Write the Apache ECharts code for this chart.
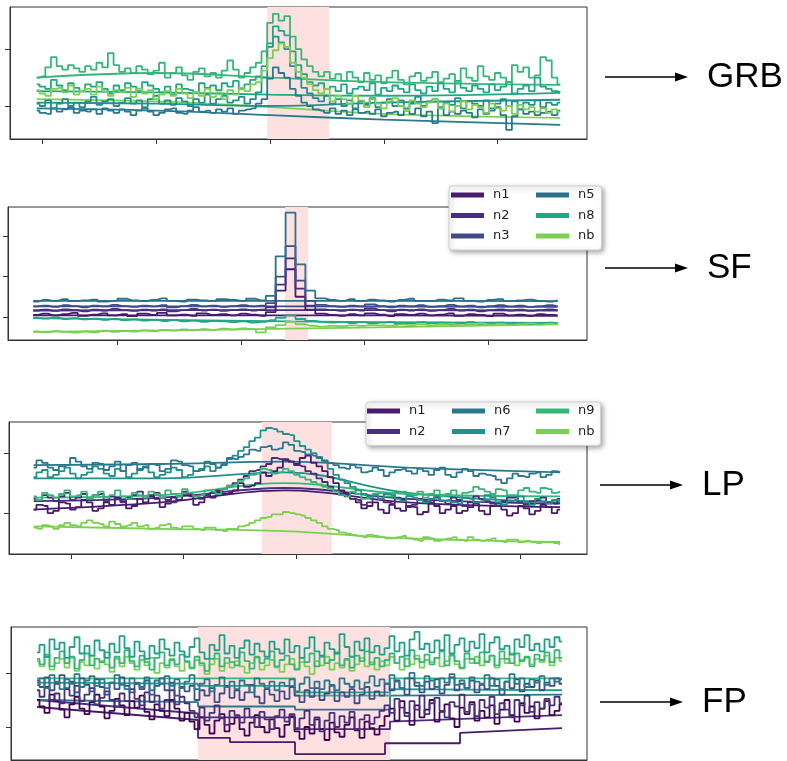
<!DOCTYPE html>
<html>
<head>
<meta charset="utf-8">
<title>Light curves: GRB, SF, LP, FP</title>
<script src="https://cdn.jsdelivr.net/npm/echarts@6/dist/echarts.min.js"></script>
<style>
  html, body { margin: 0; padding: 0; background: #fff; }
  #chart { width: 787px; height: 761px; }
</style>
</head>
<body>
<div id="chart"></div>
<script>
// detector colours (viridis-like)
const detColors = {
  n0: '#440154', n1: '#481a6c', n2: '#472f7d', n3: '#3e4c8a', n4: '#365d8d',
  n5: '#2d6f8e', n6: '#2a788e', n7: '#21918c', na: '#1fa187', n8: '#22a785',
  n9: '#35b779', nb: '#7ad151'
}

// ---- GRB panel: bins start at -41 s, 1 s wide ----
const grbStart = -41, grbBin = 1
const grbN9 = [150,152,168,186,170,164,172,166,160,170, 164,176,168,193,172,160,166,158,170,164,
  156,162,176,150,158,168,154,146,160,166, 152,158,150,162,180,164,150,158,168,176,
  196,246,262,250,258,222,200,182,170,160, 152,160,148,156,144,160,150,142,158,146,
  154,140,150,162,146,138,152,158,144,150, 160,142,148,156,140,166,150,144,170,152,
  146,158,150,142,172,160,168,150,154,186, 180,150,138]
const grbN8 = [138,134,130,146,136,128,140,132,126,138, 134,142,130,122,136,128,140,134,126,142,
  136,130,124,134,120,138,130,128,124,140, 132,136,128,140,134,144,130,138,146,152,
  170,210,240,232,224,196,172,156,142,136, 140,130,134,126,138,122,130,134,128,140,
  120,132,126,136,130,124,138,128,122,134, 126,140,130,124,144,132,126,136,130,124,
  138,128,134,142,122,130,136,126,150,134, 130,126,124]
const grbN7 = [104,100,110,96,104,112,100,106,98,108, 116,102,108,112,100,106,114,104,110,98,
  112,118,104,110,102,114,108,100,112,106, 120,104,112,118,106,110,116,104,112,124,
  150,204,222,212,200,170,150,132,122,114, 108,118,104,112,100,110,96,108,102,114,
  98,106,112,100,110,96,104,116,100,108, 112,98,106,102,114,96,108,104,100,110,
  96,104,112,100,108,94,106,102,110,98, 106,102,106]
const grbN6 = [92,88,86,96,90,94,98,88,92,90, 94,86,96,92,88,94,90,84,92,96,
  90,84,88,94,96,88,86,92,98,90, 92,88,94,90,96,86,92,94,96,104,
  112,148,168,158,150,130,118,106,100,94, 92,88,96,86,92,84,94,88,90,86,
  94,82,88,90,84,92,86,96,82,90, 70,96,84,90,86,92,88,80,94,86,
  92,98,84,58,82,94,86,90,84,88, 90,84,92]
const grbNb = [128,122,118,130,132,124,136,120,126,130, 120,134,126,118,128,124,132,116,130,122,
  128,112,120,126,118,130,122,114,124,118, 130,116,124,112,128,120,132,126,138,142,
  162,184,198,210,204,176,160,150,138,128, 122,130,108,118,112,104,118,110,98,112,
  104,96,108,114,100,92,110,104,98,106, 112,96,104,90,100,108,94,102,98,88,
  104,96,92,100,86,102,94,98,90,96, 88,94,90]
const grbBkgT = [-41, -20, 0, 20, 51]
const grbBkgN9 = [150, 158, 150, 142, 137]
const grbBkgN8 = [126, 124, 120, 118, 123]
const grbBkgN7 = [106, 104, 100, 106, 111]
const grbBkgNb = [112, 108, 98, 86, 79]
const grbBkgN6 = [96, 92, 84, 76, 67]
const grbShade = [-0.5, 10.4]

// ---- SF panel: bins start at -168 s, 8 s wide ----
const sfStart = -168, sfBin = 8
const sfN1 = [105,108,104,107,110,103,106,109,104,107, 102,108,105,110,104,106,103,109,105,107,
  104,108,106,103,112,165,218,150,118,108, 105,103,107,104,109,106,102,107,105,108,
  104,106,109,103,107,105,102,108,104,106, 103,107,105,104]
const sfN2 = [116,118,115,119,117,114,118,116,120,117, 115,118,116,119,114,117,120,116,118,115,
  117,119,116,118,124,180,245,170,128,119, 117,115,118,116,121,117,114,118,116,119,
  115,117,120,116,118,114,117,119,116,118, 115,117,119,116]
const sfN3 = [126,128,125,129,127,124,128,126,130,127, 125,128,126,129,124,127,130,126,128,125,
  127,129,126,128,134,200,275,190,140,130, 127,125,128,126,131,127,124,128,126,129,
  125,127,130,126,128,124,127,129,126,128, 125,127,129,126]
const sfN5 = [138,142,140,144,139,141,143,138,140,145, 141,139,142,146,140,138,143,141,139,144,
  142,140,145,141,152,250,358,230,165,146, 142,140,144,139,143,141,138,142,145,140,
  139,143,141,146,140,138,142,144,139,141, 143,140,138,141]
const sfN8 = [98,96,99,95,97,94,96,93,95,92, 94,91,93,90,92,89,91,88,90,89,
  87,89,86,88,92,98,104,95,90,88, 86,88,85,87,84,86,88,83,85,87,
  84,86,82,85,87,83,84,86,82,85, 83,84,86,84]
const sfNb = [64,62,65,63,61,64,62,66,63,65, 64,67,65,68,66,69,67,70,68,71,
  69,72,70,62,74,80,88,82,78,76, 78,77,79,78,80,79,78,81,80,82,
  79,81,83,80,82,84,81,83,80,82, 84,81,83,82]
const sfBkgT = [-168, 40, 256]
const sfBkgN5 = [140, 140, 139]
const sfBkgN3 = [126, 126, 125]
const sfBkgN2 = [116, 117, 116]
const sfBkgN1 = [104, 104, 103]
const sfBkgN8 = [97, 89, 85]
const sfBkgNb = [63, 71, 82]
const sfShade = [35.6, 54.2]

// ---- LP panel: bins start at -234 s, 5 s wide ----
const lpStart = -234, lpBin = 5
const lpN1 = [106,114,112,100,104,118,116,106,110,122, 118,104,108,118,114,126,120,108,112,124,
  118,128,124,110,116,126,122,130,128,114, 118,130,126,136,132,134,138,150,144,146,
  150,168,162,170,176,190,186,182,192,196, 184,178,170,160,150,138,132,124,118,108,
  112,118,106,100,114,108,104,112,110,98, 102,116,112,100,106,112,100,104,110,116,
  104,98,112,116,106,96,100,112,108,98, 104,114,110,100,106]
const lpN2 = [124,120,130,126,120,128,134,122,126,132, 122,130,132,120,128,124,118,126,130,136,
  126,130,134,126,122,118,128,136,132,128, 124,130,134,138,140,146,150,156,162,170,
  172,178,182,192,190,188,186,180,178,170, 166,158,152,144,138,132,128,124,122,114,
  118,128,124,118,116,126,122,110,114,124, 120,118,126,120,116,126,122,112,118,128,
  124,120,116,112,120,126,126,118,114,120, 122,126,118,116,124]
const lpN6 = [176,188,184,176,172,178,180,192,186,178, 174,184,182,172,178,186,170,180,184,172,
  176,182,180,170,174,188,186,180,178,170, 172,186,182,176,180,192,190,194,198,206,
  204,210,212,206,208,218,214,204,202,198, 196,192,188,184,180,176,174,180,176,168,
  170,176,172,162,168,172,174,170,166,174, 170,164,172,176,164,160,168,174,170,162,
  166,164,162,156,150,158,166,162,160,166, 168,160,164,170,168]
const lpN7 = [160,168,172,160,164,170,176,166,158,164, 168,178,174,166,162,174,170,160,166,174,
  178,168,160,164,168,176,172,160,164,170, 174,178,170,176,182,190,196,204,210,220,
  226,238,242,240,236,232,230,220,212,206, 200,194,186,174,164,156,150,144,138,132,
  128,130,124,132,130,124,120,128,126,122, 118,124,128,120,122,118,116,126,124,118,
  120,130,126,118,114,120,122,128,118,114, 124,120,116,122,120]
const lpN9 = [128,122,134,130,126,132,138,128,130,136, 124,130,136,126,130,138,128,124,134,130,
  126,136,132,126,138,132,128,140,134,128, 130,138,136,132,140,146,148,154,158,164,
  166,174,172,166,168,174,170,164,160,156, 152,148,144,140,136,130,128,136,132,124,
  126,132,134,128,128,134,136,130,130,136, 126,132,138,128,132,138,128,134,136,144,
  140,136,132,140,138,130,130,138,142,136, 134,142,140,134,136]
const lpNb = [76,74,80,78,74,80,84,80,78,84, 88,84,82,78,86,82,78,80,84,78,
  80,74,76,80,82,76,74,78,78,74, 72,76,76,72,70,74,74,78,80,84,
  88,92,94,98,98,102,100,98,96,92, 88,84,78,74,72,68,66,64,62,60,
  64,62,60,58,58,60,62,58,56,54, 60,58,54,56,58,60,56,54,60,56,
  54,56,58,54,52,56,56,52,54,52, 50,52,52,50,48]
const lpBkgT = [-234, -120, -10, 100, 236]
const lpBkgN6 = [180, 182, 186, 176, 168]
const lpBkgN7 = [158, 158, 168, 134, 118]
const lpBkgN9 = [126, 130, 150, 132, 128]
const lpBkgN2 = [120, 126, 142, 124, 116]
const lpBkgN1 = [106, 118, 138, 118, 110]
const lpBkgNb = [78, 74, 70, 58, 52]
const lpShade = [-30.4, 32.1]

// ---- FP panel: bins start at 0 s, 5 s wide ----
const fpStart = 0, fpBin = 5
const fpN0 = [150,138,126,160,148,132,118,142,156,134, 124,146,160,138,116,130,152,140,122,148,
  136,158,128,114,142,130,120,150,134,112, 126,110,96,118,104,88,112,124,92,106,
  118,96,84,108,122,100,90,114,98,82, 104,120,92,78,100,88,114,96,76,108,
  90,82,104,118,94,80,110,98,86,102, 120,134,112,148,126,104,140,118,132,150,
  110,128,142,116,100,136,124,146,112,130, 118,140,106,132,150,122,110,144,126,138,
  116,134,148,122,130,142]
const fpN2 = [168,156,174,150,162,144,170,158,176,148, 160,172,142,154,166,150,138,162,148,170,
  152,140,164,146,158,134,150,168,142,156, 144,130,118,136,112,126,140,116,104,130,
  122,108,134,118,100,128,114,96,120,132, 110,124,98,116,130,104,118,92,112,126,
  100,120,108,128,96,114,122,106,118,130, 140,126,152,136,120,148,132,158,124,144,
  154,130,118,146,138,160,128,142,120,150, 136,156,124,144,132,118,150,140,158,128,
  146,134,152,140,156,144]
const fpN3 = [186,174,192,168,180,196,172,184,164,190, 178,166,188,174,160,182,170,192,176,164,
  180,170,186,160,176,190,168,182,158,174, 166,176,150,168,158,172,146,162,176,154,
  168,150,164,178,156,144,170,160,148,166, 152,174,158,146,168,156,172,150,162,176,
  148,164,156,170,144,160,174,152,166,158, 180,168,186,172,160,190,176,164,184,170,
  188,162,178,192,168,180,172,186,164,178, 170,190,176,160,184,172,188,166,180,174,
  186,168,182,176,190,180]
const fpN6 = [178,190,172,196,184,170,188,180,198,174, 186,194,176,188,172,182,196,178,170,190,
  182,174,192,168,186,180,194,176,188,172, 184,196,170,180,188,166,178,192,174,184,
  170,186,178,164,190,180,172,184,168,182, 176,188,166,180,192,172,184,170,186,178,
  168,190,180,174,186,170,182,194,176,188, 180,196,184,172,190,200,182,176,194,186,
  174,190,182,198,178,186,172,192,184,180, 196,176,188,170,184,198,180,190,174,188,
  182,194,178,190,184,188]
const fpNa = [238,252,230,262,244,256,228,248,266,236, 250,232,260,242,228,254,238,268,246,230,
  258,240,226,250,236,262,244,232,256,240, 230,248,264,238,226,252,242,270,236,250,
  228,246,260,234,254,240,230,258,244,236, 262,238,250,228,246,266,240,232,256,244,
  236,272,248,230,258,242,264,238,250,234, 246,268,240,256,232,262,276,244,254,238,
  260,242,270,236,252,264,240,258,246,272, 238,256,266,244,250,234,262,248,270,242,
  254,240,262,248,266,258]
const fpN9 = [226,216,234,212,228,240,218,230,208,224, 236,214,226,220,238,210,230,218,242,222,
  212,232,220,206,228,238,214,224,216,234, 222,210,230,218,204,226,236,212,228,220,
  214,238,222,208,230,218,226,240,212,224, 232,216,206,228,220,236,212,230,218,224,
  238,214,226,210,232,222,240,216,228,212, 224,236,218,230,212,242,226,220,234,216,
  228,240,214,232,222,210,236,226,218,238, 220,232,214,240,226,218,236,222,230,212,
  234,224,238,220,242,228]
const fpNb = [222,212,230,206,218,226,210,228,204,220, 214,232,208,222,216,202,226,212,230,218,
  206,224,214,228,200,218,210,226,212,204, 220,208,224,214,198,216,226,204,218,210,
  222,212,200,218,228,206,214,224,210,202, 216,226,208,220,212,198,222,214,230,206,
  218,210,224,204,216,228,212,220,206,222, 214,230,218,206,226,216,232,210,224,220,
  228,212,222,234,216,208,226,218,230,214, 222,232,210,226,218,236,214,224,228,216,
  226,220,232,214,228,222]
// background models jump at the interval edges
const fpBkgT1 = [0, 161, 161, 193, 193, 258, 258, 348, 348, 423, 423, 525]
const fpBkgN1 = [137, 113, 80, 80, 72, 72, 50, 50, 70, 70, 89, 98]
const fpBkgT2 = [0, 161, 161, 258, 258, 353, 353, 525]
const fpBkgN2 = [150, 125, 118, 118, 96, 96, 110, 122]
const fpBkgN6 = [150, 146, 138, 138, 132, 132, 158, 160]
const fpBkgNa = [182, 180, 176, 176, 164, 164, 170, 168]
const fpBkgN9 = [190, 190, 190, 190, 158, 158, 190, 190]
const fpShade = [161, 353]

// ---- axis ticks ----
const grbXTicks = [-40, -20, 0, 20, 40]
const sfXTicks = [-100, 0, 100, 200]
const lpXTicks = [-200, -100, 0, 100, 200]
const fpXTicks = [0, 100, 200, 300, 400, 500]
const grbYTicks = [100, 200]
const sfYTicks = [100, 200, 300]
const lpYTicks = [100, 200]
const fpYTicks = [100, 200]

const chart = echarts.init(document.getElementById('chart'))

const stepLine = (name, color, g, start, bin, vals) => ({
  name, type: 'line', xAxisIndex: g, yAxisIndex: g, step: 'middle',
  symbol: 'none', silent: true, z: 3,
  data: vals.map((v, i) => [start + i * bin, v]),
  lineStyle: { color, width: 1.8 },
  itemStyle: { color }
})

const bkgLine = (name, color, g, ts, vals, smooth) => ({
  name, type: 'line', xAxisIndex: g, yAxisIndex: g,
  symbol: 'none', silent: true, z: 2, smooth: smooth ? 0.4 : false,
  data: vals.map((v, i) => [ts[i], v]),
  lineStyle: { color, width: 1.8 },
  itemStyle: { color }
})

const shade = (g, range) => ({
  name: 'shade' + g, type: 'line', xAxisIndex: g, yAxisIndex: g, data: [],
  silent: true, z: 1,
  markArea: {
    silent: true,
    itemStyle: { color: '#fde1e1' },
    data: [[{ xAxis: range[0] }, { xAxis: range[1] }]]
  }
})

const makeAxis = (g, min, max, ticks) => ({
  gridIndex: g, type: 'value', min, max,
  axisLine: { show: true, onZero: false, lineStyle: { color: '#333', width: 1 } },
  axisTick: { show: true, length: 5, customValues: ticks, lineStyle: { color: '#333' } },
  axisLabel: { show: false },
  splitLine: { show: false }
})

const gridBase = { show: true, borderColor: '#333', borderWidth: 1, backgroundColor: 'transparent' }

const legendBase = {
  orient: 'vertical', icon: 'rect', itemWidth: 33, itemHeight: 5, itemGap: 6.5,
  selectedMode: false,
  textStyle: { fontFamily: 'DejaVu Sans', fontSize: 13, color: '#222', lineHeight: 14, padding: [0, 0, 0, 4] }
}
const legendBox = {
  backgroundColor: '#fff', borderColor: '#d0d0d0', borderWidth: 1, borderRadius: 3,
  shadowBlur: 5, shadowColor: 'rgba(0,0,0,0.35)', shadowOffsetX: 2, shadowOffsetY: 2
}

const arrow = (x1, x2, y) => [
  { type: 'line', shape: { x1, y1: y, x2: x2 - 10, y2: y }, style: { stroke: '#000', lineWidth: 1.5 } },
  { type: 'polygon', shape: { points: [[x2 - 13, y - 4.5], [x2, y], [x2 - 13, y + 4.5]] }, style: { fill: '#000' } }
]
const label = (text, x, y) => ({
  type: 'text', x, y,
  style: { text, font: '35px "Liberation Sans", Arial, sans-serif', fill: '#000', verticalAlign: 'middle' }
})

const option = {
  animation: false,
  backgroundColor: '#fff',
  grid: [
    { ...gridBase, left: 10, top: 7, width: 577, height: 132 },
    { ...gridBase, left: 8, top: 207, width: 579, height: 133 },
    { ...gridBase, left: 9, top: 422, width: 578, height: 132 },
    { ...gridBase, left: 11, top: 627, width: 576, height: 133 }
  ],
  xAxis: [
    makeAxis(0, -45.7, 55.7, grbXTicks),
    makeAxis(1, -188.4, 279.7, sfXTicks),
    makeAxis(2, -256, 260, lpXTicks),
    makeAxis(3, -26, 550, fpXTicks)
  ],
  yAxis: [
    makeAxis(0, 42, 274, grbYTicks),
    makeAxis(1, 43, 372, sfYTicks),
    makeAxis(2, 32, 252, lpYTicks),
    makeAxis(3, 39, 285, fpYTicks)
  ],
  legend: [
    { ...legendBase, ...legendBox, data: ['n1', 'n2', 'n3'], left: 449, top: 186, padding: [2, 92, 7, 2] },
    { ...legendBase, data: ['n5', 'n8', 'nb'], left: 536, top: 188, padding: 0, z: 6 },
    { ...legendBase, ...legendBox, data: ['n1', 'n2'], left: 366, top: 402, padding: [2, 175, 7, 1] },
    { ...legendBase, data: ['n6', 'n7'], left: 452, top: 404, padding: 0, z: 6 },
    { ...legendBase, data: ['n9', 'nb'], left: 536, top: 404, padding: 0, z: 6 }
  ],
  graphic: [
    ...arrow(605, 688, 77), label('GRB', 707, 77),
    ...arrow(605, 688, 268), label('SF', 707, 268),
    ...arrow(600, 683, 485), label('LP', 702, 485),
    ...arrow(600, 683, 702), label('FP', 702, 702)
  ],
  series: [
    // GRB
    shade(0, grbShade),
    bkgLine('GRB n6 bkg', detColors.n6, 0, grbBkgT, grbBkgN6, true),
    bkgLine('GRB nb bkg', detColors.nb, 0, grbBkgT, grbBkgNb, true),
    bkgLine('GRB n7 bkg', detColors.n7, 0, grbBkgT, grbBkgN7, true),
    bkgLine('GRB n8 bkg', detColors.n8, 0, grbBkgT, grbBkgN8, true),
    bkgLine('GRB n9 bkg', detColors.n9, 0, grbBkgT, grbBkgN9, true),
    stepLine('GRB n6', detColors.n6, 0, grbStart, grbBin, grbN6),
    stepLine('GRB n7', detColors.n7, 0, grbStart, grbBin, grbN7),
    stepLine('GRB n8', detColors.n8, 0, grbStart, grbBin, grbN8),
    stepLine('GRB nb', detColors.nb, 0, grbStart, grbBin, grbNb),
    stepLine('GRB n9', detColors.n9, 0, grbStart, grbBin, grbN9),
    // SF
    shade(1, sfShade),
    bkgLine('SF n5 bkg', detColors.n5, 1, sfBkgT, sfBkgN5, true),
    bkgLine('SF n3 bkg', detColors.n3, 1, sfBkgT, sfBkgN3, true),
    bkgLine('SF n2 bkg', detColors.n2, 1, sfBkgT, sfBkgN2, true),
    bkgLine('SF n1 bkg', detColors.n1, 1, sfBkgT, sfBkgN1, true),
    bkgLine('SF n8 bkg', detColors.n8, 1, sfBkgT, sfBkgN8, true),
    bkgLine('SF nb bkg', detColors.nb, 1, sfBkgT, sfBkgNb, true),
    stepLine('n1', detColors.n1, 1, sfStart, sfBin, sfN1),
    stepLine('n2', detColors.n2, 1, sfStart, sfBin, sfN2),
    stepLine('n3', detColors.n3, 1, sfStart, sfBin, sfN3),
    stepLine('n5', detColors.n5, 1, sfStart, sfBin, sfN5),
    stepLine('n8', detColors.n8, 1, sfStart, sfBin, sfN8),
    stepLine('nb', detColors.nb, 1, sfStart, sfBin, sfNb),
    // LP
    shade(2, lpShade),
    bkgLine('LP n6 bkg', detColors.n6, 2, lpBkgT, lpBkgN6, true),
    bkgLine('LP n7 bkg', detColors.n7, 2, lpBkgT, lpBkgN7, true),
    bkgLine('LP n9 bkg', detColors.n9, 2, lpBkgT, lpBkgN9, true),
    bkgLine('LP n2 bkg', detColors.n2, 2, lpBkgT, lpBkgN2, true),
    bkgLine('LP n1 bkg', detColors.n1, 2, lpBkgT, lpBkgN1, true),
    bkgLine('LP nb bkg', detColors.nb, 2, lpBkgT, lpBkgNb, true),
    stepLine('n1', detColors.n1, 2, lpStart, lpBin, lpN1),
    stepLine('n2', detColors.n2, 2, lpStart, lpBin, lpN2),
    stepLine('n9', detColors.n9, 2, lpStart, lpBin, lpN9),
    stepLine('n7', detColors.n7, 2, lpStart, lpBin, lpN7),
    stepLine('n6', detColors.n6, 2, lpStart, lpBin, lpN6),
    stepLine('nb', detColors.nb, 2, lpStart, lpBin, lpNb),
    // FP
    shade(3, fpShade),
    bkgLine('FP n1 bkg', detColors.n1, 3, fpBkgT1, fpBkgN1, false),
    bkgLine('FP n2 bkg', detColors.n2, 3, fpBkgT2, fpBkgN2, false),
    bkgLine('FP n6 bkg', detColors.n6, 3, fpBkgT2, fpBkgN6, false),
    bkgLine('FP na bkg', detColors.na, 3, fpBkgT2, fpBkgNa, false),
    bkgLine('FP n9 bkg', detColors.n9, 3, fpBkgT2, fpBkgN9, false),
    stepLine('FP n0', detColors.n0, 3, fpStart, fpBin, fpN0),
    stepLine('FP n2', detColors.n2, 3, fpStart, fpBin, fpN2),
    stepLine('FP n3', detColors.n3, 3, fpStart, fpBin, fpN3),
    stepLine('FP n6', detColors.n6, 3, fpStart, fpBin, fpN6),
    stepLine('FP nb', detColors.nb, 3, fpStart, fpBin, fpNb),
    stepLine('FP n9', detColors.n9, 3, fpStart, fpBin, fpN9),
    stepLine('FP na', detColors.na, 3, fpStart, fpBin, fpNa)
  ]
}

chart.setOption(option)
window.addEventListener('resize', () => chart.resize())
</script>
</body>
</html>
